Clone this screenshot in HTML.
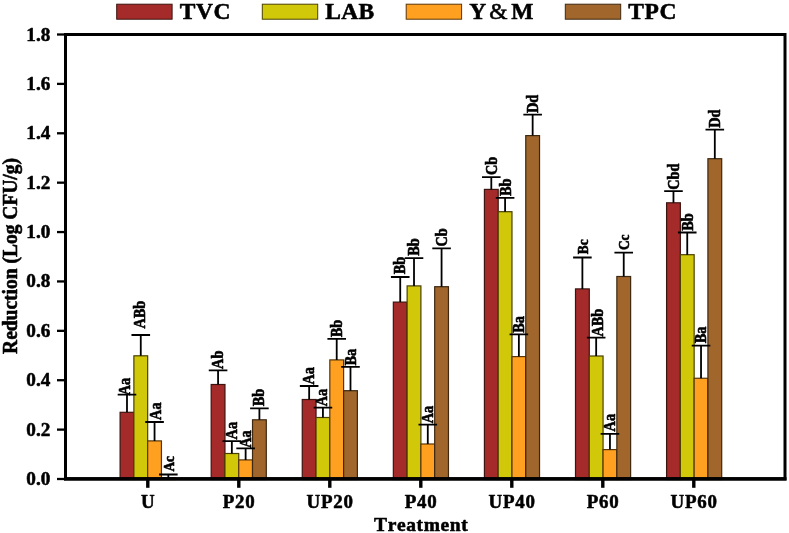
<!DOCTYPE html>
<html><head><meta charset="utf-8"><title>Chart</title>
<style>html,body{margin:0;padding:0;background:#fff}body{width:789px;height:533px;overflow:hidden}svg{display:block;will-change:transform;transform:translateZ(0)}text{font-family:"Liberation Serif",serif;font-weight:bold;fill:#000;stroke:#000;stroke-width:0.55px;stroke-linejoin:round;font-kerning:none}</style></head><body>
<svg width="789" height="533" viewBox="0 0 789 533">
<rect x="0" y="0" width="789" height="533" fill="#fff"/>
<g>
<rect x="120.10" y="412.30" width="13.78" height="67.20" fill="#A52A2A" stroke="#3c1410" stroke-width="1.2"/>
<rect x="211.18" y="384.50" width="13.78" height="95.00" fill="#A52A2A" stroke="#3c1410" stroke-width="1.2"/>
<rect x="302.26" y="399.50" width="13.78" height="80.00" fill="#A52A2A" stroke="#3c1410" stroke-width="1.2"/>
<rect x="393.34" y="302.10" width="13.78" height="177.40" fill="#A52A2A" stroke="#3c1410" stroke-width="1.2"/>
<rect x="484.42" y="189.40" width="13.78" height="290.10" fill="#A52A2A" stroke="#3c1410" stroke-width="1.2"/>
<rect x="575.50" y="288.90" width="13.78" height="190.60" fill="#A52A2A" stroke="#3c1410" stroke-width="1.2"/>
<rect x="666.58" y="202.80" width="13.78" height="276.70" fill="#A52A2A" stroke="#3c1410" stroke-width="1.2"/>
</g>
<g>
<rect x="133.88" y="355.80" width="13.78" height="123.70" fill="#D2C80A" stroke="#4a4000" stroke-width="1.2"/>
<rect x="224.96" y="453.50" width="13.78" height="26.00" fill="#D2C80A" stroke="#4a4000" stroke-width="1.2"/>
<rect x="316.04" y="417.50" width="13.78" height="62.00" fill="#D2C80A" stroke="#4a4000" stroke-width="1.2"/>
<rect x="407.12" y="285.90" width="13.78" height="193.60" fill="#D2C80A" stroke="#4a4000" stroke-width="1.2"/>
<rect x="498.20" y="211.70" width="13.78" height="267.80" fill="#D2C80A" stroke="#4a4000" stroke-width="1.2"/>
<rect x="589.28" y="356.00" width="13.78" height="123.50" fill="#D2C80A" stroke="#4a4000" stroke-width="1.2"/>
<rect x="680.36" y="254.70" width="13.78" height="224.80" fill="#D2C80A" stroke="#4a4000" stroke-width="1.2"/>
</g>
<g>
<rect x="147.66" y="440.90" width="13.78" height="38.60" fill="#FFA020" stroke="#5a3606" stroke-width="1.2"/>
<rect x="238.74" y="459.90" width="13.78" height="19.60" fill="#FFA020" stroke="#5a3606" stroke-width="1.2"/>
<rect x="329.82" y="359.90" width="13.78" height="119.60" fill="#FFA020" stroke="#5a3606" stroke-width="1.2"/>
<rect x="420.90" y="444.00" width="13.78" height="35.50" fill="#FFA020" stroke="#5a3606" stroke-width="1.2"/>
<rect x="511.98" y="356.60" width="13.78" height="122.90" fill="#FFA020" stroke="#5a3606" stroke-width="1.2"/>
<rect x="603.06" y="449.60" width="13.78" height="29.90" fill="#FFA020" stroke="#5a3606" stroke-width="1.2"/>
<rect x="694.14" y="378.25" width="13.78" height="101.25" fill="#FFA020" stroke="#5a3606" stroke-width="1.2"/>
</g>
<g>
<rect x="161.44" y="477.80" width="13.78" height="1.70" fill="#A0662C" stroke="#3e2810" stroke-width="1.2"/>
<rect x="252.52" y="419.80" width="13.78" height="59.70" fill="#A0662C" stroke="#3e2810" stroke-width="1.2"/>
<rect x="343.60" y="390.70" width="13.78" height="88.80" fill="#A0662C" stroke="#3e2810" stroke-width="1.2"/>
<rect x="434.68" y="286.70" width="13.78" height="192.80" fill="#A0662C" stroke="#3e2810" stroke-width="1.2"/>
<rect x="525.76" y="135.60" width="13.78" height="343.90" fill="#A0662C" stroke="#3e2810" stroke-width="1.2"/>
<rect x="616.84" y="276.50" width="13.78" height="203.00" fill="#A0662C" stroke="#3e2810" stroke-width="1.2"/>
<rect x="707.92" y="158.70" width="13.78" height="320.80" fill="#A0662C" stroke="#3e2810" stroke-width="1.2"/>
</g>
<g stroke="#000" stroke-width="1.8" fill="none">
<path d="M126.99 412.30V394.70M117.69 394.70H136.29"/>
<path d="M218.07 384.50V370.40M208.77 370.40H227.37"/>
<path d="M309.15 399.50V386.00M299.85 386.00H318.45"/>
<path d="M400.23 302.10V277.00M390.93 277.00H409.53"/>
<path d="M491.31 189.40V177.20M482.01 177.20H500.61"/>
<path d="M582.39 288.90V257.50M573.09 257.50H591.69"/>
<path d="M673.47 202.80V191.10M664.17 191.10H682.77"/>
<path d="M140.77 355.80V335.00M131.47 335.00H150.07"/>
<path d="M231.85 453.50V441.10M222.55 441.10H241.15"/>
<path d="M322.93 417.50V407.60M313.63 407.60H332.23"/>
<path d="M414.01 285.90V258.20M404.71 258.20H423.31"/>
<path d="M505.09 211.70V197.80M495.79 197.80H514.39"/>
<path d="M596.17 356.00V337.60M586.87 337.60H605.47"/>
<path d="M687.25 254.70V232.50M677.95 232.50H696.55"/>
<path d="M154.55 440.90V422.00M145.25 422.00H163.85"/>
<path d="M245.63 459.90V448.40M236.33 448.40H254.93"/>
<path d="M336.71 359.90V338.90M327.41 338.90H346.01"/>
<path d="M427.79 444.00V424.60M418.49 424.60H437.09"/>
<path d="M518.87 356.60V334.40M509.57 334.40H528.17"/>
<path d="M609.95 449.60V433.80M600.65 433.80H619.25"/>
<path d="M701.03 378.25V345.60M691.73 345.60H710.33"/>
<path d="M168.33 477.80V474.50M159.03 474.50H177.63"/>
<path d="M259.41 419.80V408.30M250.11 408.30H268.71"/>
<path d="M350.49 390.70V366.90M341.19 366.90H359.79"/>
<path d="M441.57 286.70V248.30M432.27 248.30H450.87"/>
<path d="M532.65 135.60V114.60M523.35 114.60H541.95"/>
<path d="M623.73 276.50V252.70M614.43 252.70H633.03"/>
<path d="M714.81 158.70V129.70M705.51 129.70H724.11"/>
</g>
<g font-size="14.3" stroke-width="0.3">
<text transform="translate(130.1 395.2) rotate(-90) scale(1 1.1)">Aa</text>
<text transform="translate(145.2 328.5) rotate(-90) scale(1 1.1)">ABb</text>
<text transform="translate(160.7 419.9) rotate(-90) scale(1 1.1)">Aa</text>
<text font-size="13.4" transform="translate(174.2 471.6) rotate(-90) scale(1 1.1)">Ac</text>
<text transform="translate(223.3 368.9) rotate(-90) scale(1 1.1)">Ab</text>
<text transform="translate(236.5 439.4) rotate(-90) scale(1 1.1)">Aa</text>
<text transform="translate(250.5 447.7) rotate(-90) scale(1 1.1)">Aa</text>
<text transform="translate(263.9 406.2) rotate(-90) scale(1 1.1)">Bb</text>
<text transform="translate(313.9 384.5) rotate(-90) scale(1 1.1)">Aa</text>
<text transform="translate(327.3 406.2) rotate(-90) scale(1 1.1)">Aa</text>
<text transform="translate(341.7 337.2) rotate(-90) scale(1 1.1)">Bb</text>
<text transform="translate(356.2 365.6) rotate(-90) scale(1 1.1)">Ba</text>
<text transform="translate(404.6 274.3) rotate(-90) scale(1 1.1)">Bb</text>
<text transform="translate(419.2 255.8) rotate(-90) scale(1 1.1)">Bb</text>
<text transform="translate(433.1 423.2) rotate(-90) scale(1 1.1)">Aa</text>
<text transform="translate(446.7 246.6) rotate(-90) scale(1 1.1)">Cb</text>
<text transform="translate(496.5 175.1) rotate(-90) scale(1 1.1)">Cb</text>
<text transform="translate(510.7 196.1) rotate(-90) scale(1 1.1)">Bb</text>
<text transform="translate(524.3 332.7) rotate(-90) scale(1 1.1)">Ba</text>
<text transform="translate(537.7 113.0) rotate(-90) scale(1 1.1)">Dd</text>
<text font-size="13.4" transform="translate(587.7 254.2) rotate(-90) scale(1 1.1)">Bc</text>
<text transform="translate(602.9 336.6) rotate(-90) scale(1 1.1)">ABb</text>
<text transform="translate(615.0 431.4) rotate(-90) scale(1 1.1)">Aa</text>
<text font-size="13.4" transform="translate(628.7 250.1) rotate(-90) scale(1 1.1)">Cc</text>
<text transform="translate(678.7 189.7) rotate(-90) scale(1 1.1)">Cbd</text>
<text transform="translate(693.2 230.8) rotate(-90) scale(1 1.1)">Bb</text>
<text transform="translate(706.2 343.3) rotate(-90) scale(1 1.1)">Ba</text>
<text transform="translate(720.2 127.7) rotate(-90) scale(1 1.1)">Dd</text>
</g>
<rect x="65.50" y="34.50" width="719.50" height="444.50" fill="none" stroke="#000" stroke-width="3.0"/>
<rect x="64.00" y="477.1" width="722.50" height="3.4" fill="#000"/>
<g stroke="#000" stroke-width="2.3">
<line x1="57" y1="479.00" x2="65.5" y2="479.00"/>
<line x1="57" y1="429.61" x2="65.5" y2="429.61"/>
<line x1="57" y1="380.22" x2="65.5" y2="380.22"/>
<line x1="57" y1="330.83" x2="65.5" y2="330.83"/>
<line x1="57" y1="281.44" x2="65.5" y2="281.44"/>
<line x1="57" y1="232.06" x2="65.5" y2="232.06"/>
<line x1="57" y1="182.67" x2="65.5" y2="182.67"/>
<line x1="57" y1="133.28" x2="65.5" y2="133.28"/>
<line x1="57" y1="83.89" x2="65.5" y2="83.89"/>
<line x1="57" y1="34.50" x2="65.5" y2="34.50"/>
</g><g stroke="#000" stroke-width="3.4">
<line x1="147.80" y1="479.0" x2="147.80" y2="487.8"/>
<line x1="238.80" y1="479.0" x2="238.80" y2="487.8"/>
<line x1="329.80" y1="479.0" x2="329.80" y2="487.8"/>
<line x1="420.80" y1="479.0" x2="420.80" y2="487.8"/>
<line x1="511.80" y1="479.0" x2="511.80" y2="487.8"/>
<line x1="602.80" y1="479.0" x2="602.80" y2="487.8"/>
<line x1="693.80" y1="479.0" x2="693.80" y2="487.8"/>
</g>
<g font-size="19.2" text-anchor="end">
<text x="50.3" y="485.00">0.0</text>
<text x="50.3" y="435.61">0.2</text>
<text x="50.3" y="386.22">0.4</text>
<text x="50.3" y="336.83">0.6</text>
<text x="50.3" y="287.44">0.8</text>
<text x="50.3" y="238.06">1.0</text>
<text x="50.3" y="188.67">1.2</text>
<text x="50.3" y="139.28">1.4</text>
<text x="50.3" y="89.89">1.6</text>
<text x="50.3" y="40.50">1.8</text>
</g>
<g font-size="18.9" text-anchor="middle" letter-spacing="0.8">
<text x="148.20" y="508.1">U</text>
<text x="239.20" y="508.1">P20</text>
<text x="330.20" y="508.1">UP20</text>
<text x="421.20" y="508.1">P40</text>
<text x="512.20" y="508.1">UP40</text>
<text x="603.20" y="508.1">P60</text>
<text x="694.20" y="508.1">UP60</text>
</g>
<text x="421.2" y="531.2" font-size="19.5" text-anchor="middle" letter-spacing="0.62" stroke-width="0.4">Treatment</text>
<text transform="translate(16.9 256) rotate(-90) scale(1 1.04)" font-size="19.5" text-anchor="middle" stroke-width="0.45">Reduction (Log CFU/g)</text>
<rect x="116.7" y="4.2" width="55.4" height="15" fill="#A52A2A" stroke="#3c1410" stroke-width="1"/>
<text x="179.7" y="19.3" font-size="23.5" letter-spacing="0.6">TVC</text>
<rect x="262.3" y="4.2" width="55.4" height="15" fill="#D2C80A" stroke="#4a4000" stroke-width="1"/>
<text x="325.3" y="19.3" font-size="23.5" letter-spacing="0.3">LAB</text>
<rect x="406.2" y="4.2" width="55.4" height="15" fill="#FFA020" stroke="#5a3606" stroke-width="1"/>
<text x="469.2" y="19.3" font-size="23.5">Y<tspan font-weight="normal" dx="3">&amp;</tspan><tspan dx="3.8">M</tspan></text>
<rect x="565.3" y="4.2" width="55.4" height="15" fill="#A0662C" stroke="#3e2810" stroke-width="1"/>
<text x="628.3" y="19.3" font-size="23.5" letter-spacing="0.6">TPC</text>
</svg></body></html>
